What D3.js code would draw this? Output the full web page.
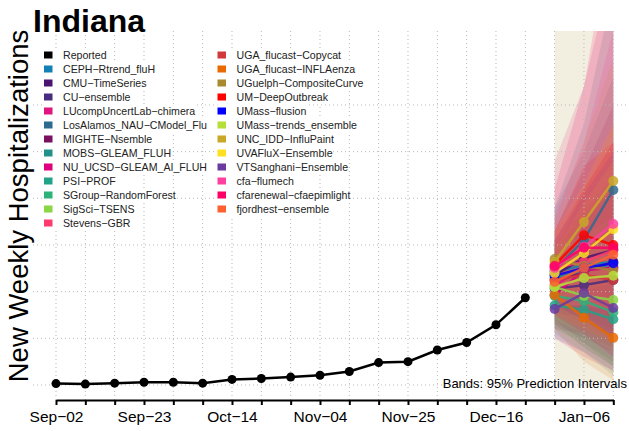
<!DOCTYPE html>
<html>
<head>
<meta charset="utf-8">
<script src="https://cdn.jsdelivr.net/npm/d3@7"></script>
<style>
  body { margin: 0; background: #fff; }
  svg { display: block; font-family: "Liberation Sans", Arial, sans-serif; }
</style>
</head>
<body>
<svg id="chart" width="629" height="431"></svg>
<script>
// ---- data ----
const stateName = 'Indiana';
const reportedDates = ['2023-09-02','2023-09-09','2023-09-16','2023-09-23','2023-09-30','2023-10-07',
  '2023-10-14','2023-10-21','2023-10-28','2023-11-04','2023-11-11','2023-11-18','2023-11-25',
  '2023-12-02','2023-12-09','2023-12-16','2023-12-23'];
const reportedValues = [3, 2, 4, 6, 6, 4, 12, 14, 17, 21, 29, 48, 50, 75, 91, 129, 187];
const forecastDates = ['2023-12-30','2024-01-06','2024-01-13'];
const labelDates = ['2023-09-02','2023-09-23','2023-10-14','2023-11-04','2023-11-25','2023-12-16','2024-01-06'];
const gridValues = [0, 100, 200, 300, 400, 500, 600];

const modelNames = ['CEPH-Rtrend_fluH','CMU-TimeSeries','CU-ensemble','LUcompUncertLab-chimera',
  'LosAlamos_NAU-CModel_Flu','MIGHTE-Nsemble','MOBS-GLEAM_FLUH','NU_UCSD-GLEAM_AI_FLUH','PSI-PROF',
  'SGroup-RandomForest','SigSci-TSENS','Stevens-GBR','UGA_flucast-Copycat','UGA_flucast-INFLAenza',
  'UGuelph-CompositeCurve','UM-DeepOutbreak','UMass-flusion','UMass-trends_ensemble','UNC_IDD-InfluPaint',
  'UVAFluX-Ensemble','VTSanghani-Ensemble','cfa-flumech','cfarenewal-cfaepimlight','fjordhest-ensemble'];
const modelColors = ['#1380b5','#4a1470','#482c80','#e0157f','#2f6a8f','#7a1060','#23918a','#e0007f','#22a387',
  '#2db27a','#8ad644','#ff3b6e','#d03a3a','#e86a00','#a88a30','#ff0000','#0000ff','#b5e03a','#c8a828',
  '#ffe020','#6a3aa0','#ff40a0','#ff0066','#ff6030'];
// medians, one row per model (Dec-30, Jan-06, Jan-13)
const medians = [
  [242, 257, 264], [236, 272, 289], [206, 214, 225], [214, 251, 251], [246, 311, 418], [225, 242, 264],
  [229, 246, 255], [193, 246, 251], [171, 161, 141], [191, 180, 156], [210, 191, 182], [251, 264, 289],
  [225, 236, 225], [193, 144, 101], [270, 255, 246], [257, 321, 300], [234, 251, 261], [210, 229, 234],
  [264, 349, 437], [240, 283, 334], [163, 197, 165], [251, 296, 345], [255, 294, 294], [221, 251, 279]];
const lower95 = [
  [130, 80, 40], [170, 160, 130], [130, 100, 70], [100, 60, 30], [150, 150, 160], [140, 90, 50],
  [170, 150, 120], [120, 110, 80], [110, 70, 20], [120, 90, 40], [130, 80, 40], [180, 150, 110],
  [160, 130, 90], [120, 50, 10], [12, 8, 4], [190, 200, 140], [170, 140, 100], [140, 110, 70],
  [180, 200, 220], [170, 170, 160], [100, 70, 30], [170, 170, 150], [150, 110, 60], [150, 120, 90]];
const upper95 = [
  [380, 500, 660], [310, 420, 520], [290, 370, 450], [480, 640, 900], [380, 560, 850], [330, 460, 600],
  [290, 360, 420], [280, 420, 520], [240, 290, 330], [270, 300, 340], [300, 320, 360], [330, 420, 520],
  [300, 380, 420], [280, 260, 250], [1000, 1000, 1000], [330, 470, 520], [310, 410, 500], [290, 390, 480],
  [350, 520, 700], [330, 430, 560], [240, 350, 420], [360, 520, 760], [420, 640, 1000], [310, 420, 560]];

// ---- layout ----
const svg = d3.select('#chart');
const plot = { left: 33, right: 629, top: 31, bottom: 400 };
const parse = d3.utcParse('%Y-%m-%d');
const fmt = d3.utcFormat('%b-%d');

const x = d3.scaleUtc()
  .domain([parse('2023-09-02'), parse('2024-01-13')])
  .range([56, 613.3]);
const y = d3.scaleLinear()
  .domain([0, 700])
  .range([385, 58.3]);

const weeks = d3.utcSaturday.range(parse('2023-09-02'), d3.utcDay.offset(parse('2024-01-13'), 1));
const labelled = new Set(labelDates);

svg.append('defs').append('clipPath').attr('id', 'clip')
  .append('rect')
  .attr('x', plot.left).attr('y', plot.top)
  .attr('width', plot.right - plot.left).attr('height', plot.bottom - plot.top);

const g = svg.append('g').attr('clip-path', 'url(#clip)');

// prediction bands
const fDates = forecastDates.map(parse);
const band = d3.area()
  .x((d, i) => x(fDates[i]))
  .y0(d => y(d[0]))
  .y1(d => y(d[1]));
modelNames.forEach((m, k) => {
  const pts = fDates.map((d, i) => [lower95[k][i], upper95[k][i]]);
  g.append('path')
    .attr('d', band(pts))
    .attr('fill', modelColors[k])
    .attr('fill-opacity', 0.15);
});

// grid
g.selectAll('.hgrid').data(gridValues).enter()
  .append('line')
  .attr('x1', plot.left).attr('x2', plot.right)
  .attr('y1', d => y(d)).attr('y2', d => y(d))
  .attr('stroke', '#b8b8b8').attr('stroke-dasharray', '1,3');
g.selectAll('.vgrid').data(weeks).enter()
  .append('line')
  .attr('x1', d => x(d)).attr('x2', d => x(d))
  .attr('y1', plot.top).attr('y2', plot.bottom)
  .attr('stroke', '#b8b8b8').attr('stroke-dasharray', '1,3');

// reported
const rep = reportedDates.map((d, i) => ({ date: parse(d), value: reportedValues[i] }));
g.append('path')
  .datum(rep)
  .attr('fill', 'none').attr('stroke', '#000').attr('stroke-width', 2.5)
  .attr('d', d3.line().x(d => x(d.date)).y(d => y(d.value)));
g.selectAll('.rep').data(rep).enter()
  .append('circle')
  .attr('cx', d => x(d.date)).attr('cy', d => y(d.value)).attr('r', 4.5)
  .attr('fill', '#000');

// model medians
const medLine = d3.line().x((d, i) => x(fDates[i])).y(d => y(d));
modelNames.forEach((m, k) => {
  const mg = g.append('g').attr('opacity', 0.85);
  mg.append('path')
    .attr('d', medLine(medians[k]))
    .attr('fill', 'none').attr('stroke', modelColors[k]).attr('stroke-width', 2.5);
  mg.selectAll('circle').data(medians[k]).enter()
    .append('circle')
    .attr('cx', (d, i) => x(fDates[i])).attr('cy', d => y(d)).attr('r', 5)
    .attr('fill', modelColors[k]);
});

// x axis
const xAxis = svg.append('g')
  .attr('transform', `translate(0,${plot.bottom})`)
  .call(d3.axisBottom(x)
    .tickValues(weeks)
    .tickSize(5)
    .tickSizeOuter(0)
    .tickPadding(6)
    .tickFormat(d => labelled.has(d3.utcFormat('%Y-%m-%d')(d)) ? fmt(d).replace('-', '\u2212') : ''));
xAxis.select('.domain').attr('stroke', '#000').attr('stroke-width', 2);
xAxis.selectAll('.tick line').attr('stroke', '#000').attr('stroke-width', 2);
xAxis.selectAll('.tick text')
  .attr('font-family', '"Liberation Sans", Arial, sans-serif')
  .attr('font-size', 15.5).attr('fill', '#000');

// y label
svg.append('text')
  .attr('transform', 'translate(27.5,206) rotate(-90)')
  .attr('text-anchor', 'middle')
  .attr('font-size', 27.5)
  .text('New Weekly Hospitalizations');

// title
svg.append('text')
  .attr('x', 33).attr('y', 32)
  .attr('font-size', 32).attr('font-weight', 'bold')
  .text(stateName);

// legend
const legendNames = ['Reported'].concat(modelNames).map(s => s.replace(/-/g, '\u2212'));
const legendColors = ['#000'].concat(modelColors);
const perCol = 13;
const legend = svg.append('g');
legendNames.forEach((name, i) => {
  const col = Math.floor(i / perCol), row = i % perCol;
  const lx = col === 0 ? 44 : 217.5;
  const ly = 55 + row * 14;
  const item = legend.append('g');
  const bg = item.append('rect').attr('fill', '#fff');
  item.append('rect')
    .attr('x', lx).attr('y', ly - 3.5).attr('width', 8.5).attr('height', 7)
    .attr('fill', legendColors[i]);
  const t = item.append('text')
    .attr('x', lx + 19).attr('y', ly + 3.8)
    .attr('font-size', 10.6).attr('fill', '#222')
    .text(name);
  const bb = t.node().getBBox();
  bg.attr('x', lx).attr('y', ly - 7).attr('width', bb.x + bb.width - lx).attr('height', 14);
});

// band note
svg.append('text')
  .attr('x', 627).attr('y', 388)
  .attr('text-anchor', 'end')
  .attr('font-size', 13)
  .text('Bands: 95% Prediction Intervals');
</script>
</body>
</html>
